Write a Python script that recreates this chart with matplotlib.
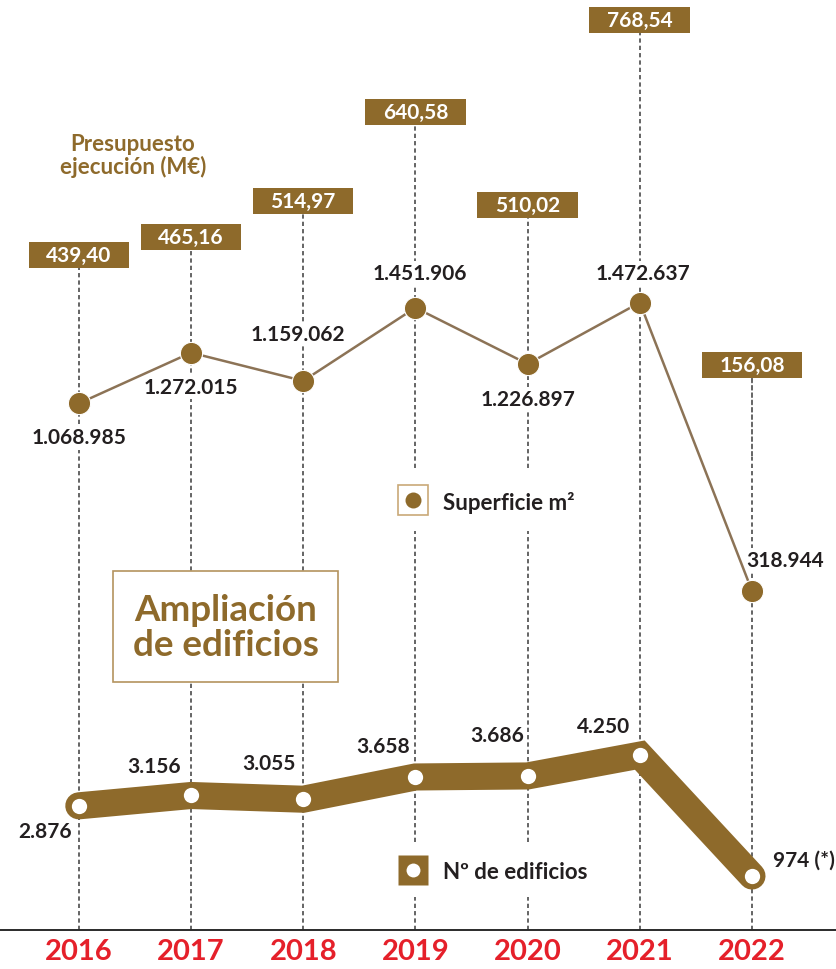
import matplotlib.pyplot as plt
from matplotlib.path import Path
from matplotlib.patches import Rectangle
from matplotlib.lines import Line2D

plt.rcParams['font.family'] = ['Lato', 'DejaVu Sans']
plt.rcParams['font.weight'] = 'bold'

# datos
years = ['2016', '2017', '2018', '2019', '2020', '2021', '2022']
presupuesto = [439.40, 465.16, 514.97, 640.58, 510.02, 768.54, 156.08]   # M€
superficie = [1068985, 1272015, 1159062, 1451906, 1226897, 1472637, 318944]  # m2
edificios = [2876, 3156, 3055, 3658, 3686, 4250, 974]

# posiciones de etiquetas (puntos, relativos al punto)
off_sup = [(0, -24.5), (0, -25), (-3.5, 34), (3, 25), (0, -25), (2, 21.5), (24, 22.5)]
off_edi = [(-24.5, -18), (-26.5, 21.5), (-24.5, 26), (-23, 22.5), (-22, 29.5), (-26, 21), (15, 12)]
box_shift = [0, 0, 0, 0, 0, 0, 66]

MARRON = '#8E6A2B'
LINEA_S = '#8C7356'
OSCURO = '#231F20'
ROJO = '#E5202A'
BORDE = '#B4935F'
GUION = '#3A3A3A'
guion = (0, (2.8, 2.0))

W, H = 837, 970
fig = plt.figure(figsize=(W / 100, H / 100), dpi=100)


def fx(p):
    return p / W


def fy(p):
    return 1 - p / H


def miles(v):
    return f'{v:,}'.replace(',', '.')


def coma(v):
    return f'{v:.2f}'.replace('.', ',')


def caja(x0, y0, width, height, mutation_size):
    px, py = 0.84 * mutation_size, 0.14 * mutation_size
    return Path([(x0 - px, y0 - py), (x0 + width + px, y0 - py),
                 (x0 + width + px, y0 + height + py), (x0 - px, y0 + height + py),
                 (x0 - px, y0 - py)], closed=True)


x = list(range(len(years)))

ax = fig.add_axes([0, fy(931), 1, fy(0) - fy(931)])
ax_s = ax.twinx()
ax_e = ax.twinx()
for a in (ax, ax_s, ax_e):
    a.set_xlim(-0.7023, 6.7576)
    for s in a.spines.values():
        s.set_visible(False)
    a.set_yticks([])
ax.spines['bottom'].set_visible(True)
ax.spines['bottom'].set_color('#2A2A2A')
ax.spines['bottom'].set_linewidth(1.4)

ax.set_ylim(-507.2, 798.5)
ax_s.set_ylim(-1.0382e6, 2.6873e6)
ax_e.set_ylim(-489, 24741)

# lineas discontinuas y cajas de presupuesto
ax.vlines(x, ax.get_ylim()[0], presupuesto, colors=GUION, linestyles=[guion], lw=1.1, zorder=1)
for i, (v, d) in enumerate(zip(presupuesto, box_shift)):
    ap = None
    if d:
        ap = dict(arrowstyle='-', color=GUION, lw=1.1, linestyle=guion, shrinkA=0, shrinkB=0)
    ax.annotate(coma(v), xy=(i, v), xytext=(0, d), textcoords='offset points',
                ha='center', va='center', color='white', fontsize=15,
                bbox=dict(boxstyle=caja, fc=MARRON, ec='none'), arrowprops=ap, zorder=3)

# superficie
ax_s.plot(x, superficie, color=LINEA_S, lw=1.8, zorder=2)
ax_s.plot(x, superficie, 'o', ms=16, mfc=MARRON, mec='white', mew=0.8, zorder=3)
for i, (v, o) in enumerate(zip(superficie, off_sup)):
    ax_s.annotate(miles(v), (i, v), xytext=o, textcoords='offset points', ha='center', va='center',
                  fontsize=15, color=OSCURO, zorder=1,
                  bbox=dict(boxstyle='square,pad=0.1', fc='white', ec='none'))

# edificios
ax_e.plot(x, edificios, color=MARRON, lw=19.5, solid_joinstyle='miter', solid_capstyle='round', zorder=2)
ax_e.plot(x, edificios, 'o', ms=11, mfc='white', mec='none', zorder=3)
for i, (v, o) in enumerate(zip(edificios, off_edi)):
    ha = 'left' if i == len(edificios) - 1 else 'center'
    ax_e.annotate(miles(v) + (' (*)' if i == len(edificios) - 1 else ''), (i, v), xytext=o,
                  textcoords='offset points', ha=ha, va='center', fontsize=15, color=OSCURO, zorder=4)

# años
ax.set_xticks(x, years)
ax.tick_params(axis='x', length=0, pad=6, labelsize=21, labelcolor=ROJO)
for t in ax.get_xticklabels():
    t.set_fontweight('bold')

# leyendas
fig.add_artist(Rectangle((fx(385), fy(532)), fx(600) - fx(385), fy(470) - fy(532),
                         transform=fig.transFigure, fc='white', ec='none', zorder=5))
fig.add_artist(Line2D([fx(413)], [fy(501)], marker='s', ms=21.5, mfc='white', mec='#C9A978',
                      mew=1.2, transform=fig.transFigure, zorder=6))
fig.add_artist(Line2D([fx(413)], [fy(501)], marker='o', ms=11.5, mfc=MARRON, mec='none',
                      transform=fig.transFigure, zorder=7))
fig.text(fx(443), fy(503), 'Superficie m²', ha='left', va='center', fontsize=16, color=OSCURO, zorder=7)

fig.add_artist(Rectangle((fx(385), fy(898)), fx(615) - fx(385), fy(846) - fy(898),
                         transform=fig.transFigure, fc='white', ec='none', zorder=5))
fig.add_artist(Line2D([fx(413)], [fy(871)], marker='s', ms=21.5, mfc=MARRON, mec='none',
                      transform=fig.transFigure, zorder=6))
fig.add_artist(Line2D([fx(413)], [fy(871)], marker='o', ms=10, mfc='white', mec='none',
                      transform=fig.transFigure, zorder=7))
fig.text(fx(443), fy(873), 'Nº de edificios', ha='left', va='center', fontsize=16, color=OSCURO, zorder=7)

# titulo
fig.add_artist(Rectangle((fx(113), fy(683)), fx(338) - fx(113), fy(572) - fy(683),
                         transform=fig.transFigure, fc='white', ec=BORDE, lw=1.2, zorder=5))
fig.text(fx(225.5), fy(628), 'Ampliación\nde edificios', ha='center', va='center',
         fontsize=26.5, color=MARRON, linespacing=1.08, zorder=6)

fig.text(fx(133), fy(156), 'Presupuesto\nejecución (M€)', ha='center', va='center',
         fontsize=16, color=MARRON, linespacing=1.1, zorder=6)

fig.savefig('out.png', dpi=100)
